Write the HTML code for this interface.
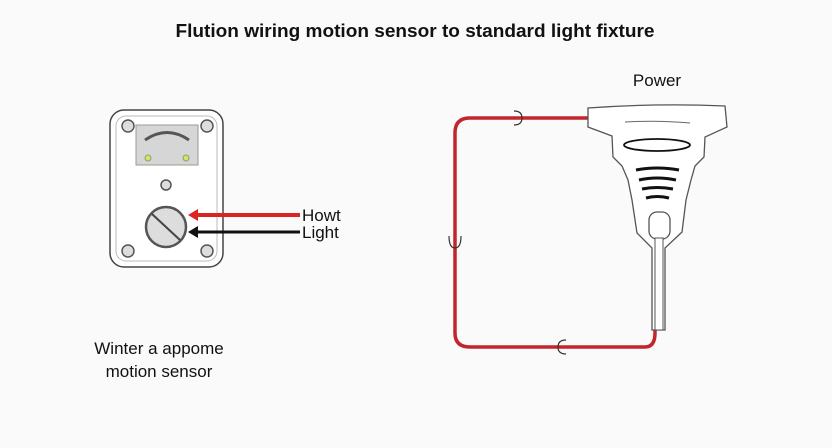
<!DOCTYPE html>
<html><head><meta charset="utf-8"><style>
html,body{margin:0;padding:0;background:#fafafa;}
svg{display:block;font-family:"Liberation Sans",sans-serif;}
</style></head><body>
<svg width="832" height="448" viewBox="0 0 832 448" xmlns="http://www.w3.org/2000/svg">
<rect width="832" height="448" fill="#fafafa"/>
<text x="415" y="37" text-anchor="middle" font-size="18" font-weight="bold" fill="#111" textLength="479" lengthAdjust="spacingAndGlyphs">Flution wiring motion sensor to standard light fixture</text>

<!-- sensor -->
<rect x="110" y="110" width="113" height="157" rx="14" fill="#fff" stroke="#444" stroke-width="1.5"/>
<rect x="116" y="116" width="101" height="145" rx="10" fill="none" stroke="#bbb" stroke-width="1"/>
<rect x="136" y="125" width="62" height="40" fill="#d6d6d6" stroke="#999"/>
<path d="M145 140 Q167 125 189 140" fill="none" stroke="#555" stroke-width="3"/>
<circle cx="148" cy="158" r="3" fill="#dde060" stroke="#7a7"/>
<circle cx="186" cy="158" r="3" fill="#dde060" stroke="#7a7"/>
<g fill="#ddd" stroke="#555" stroke-width="1.5">
<circle cx="128" cy="126" r="6"/><circle cx="207" cy="126" r="6"/>
<circle cx="128" cy="251" r="6"/><circle cx="207" cy="251" r="6"/>
<circle cx="166" cy="185" r="5"/>
<circle cx="166" cy="227" r="20" stroke-width="2.5"/>
</g>
<line x1="152" y1="214" x2="180" y2="240" stroke="#444" stroke-width="2"/>
<line x1="300" y1="215" x2="195" y2="215" stroke="#d22" stroke-width="4"/>
<polygon points="188,215 198,209 198,221" fill="#d22"/>
<line x1="300" y1="232" x2="195" y2="232" stroke="#111" stroke-width="3"/>
<polygon points="188,232 198,226 198,238" fill="#111"/>
<text x="302" y="221" font-size="17" fill="#111">Howt</text>
<text x="302" y="238" font-size="17" fill="#111">Light</text>

<text x="159" y="354" text-anchor="middle" font-size="17" fill="#111">Winter a appome</text>
<text x="159" y="377" text-anchor="middle" font-size="17" fill="#111">motion sensor</text>

<!-- red wire -->
<path d="M588 118 L470 118 Q455 118 455 133 L455 333 Q455 347 470 347 L645 347 Q655 347 655 333 L655 330" fill="none" stroke="#c2252b" stroke-width="3.5"/>
<g fill="none" stroke="#333" stroke-width="1.2">
<path d="M514 111 Q522 111 522 118 Q522 125 514 125"/>
<path d="M449 236 Q449 248 455 248 Q461 248 461 236"/>
<path d="M566 340 Q558 340 558 347 Q558 354 566 354"/>
</g>

<!-- fixture -->
<text x="657" y="86" text-anchor="middle" font-size="17" fill="#111">Power</text>
<path d="M588 108 Q657 103 725 106 L727 127 L705 137 L704 157 L695 166 L691 180 L686 200 L682 232 L665 248 L665 330 L652 330 L652 248 L637 233 L632 200 L628 180 L622 166 L613 157 L612 136 L588 127 Z" fill="#fff" stroke="#555" stroke-width="1.3"/>
<path d="M625 122 Q657 120 690 123" fill="none" stroke="#666" stroke-width="1"/>
<ellipse cx="657" cy="145" rx="33" ry="6" fill="none" stroke="#111" stroke-width="1.8"/>
<g fill="none" stroke="#111" stroke-width="3">
<path d="M636 170 Q657 166 679 170"/>
<path d="M639 180 Q657 176 676 180"/>
<path d="M642 189 Q657 186 673 189"/>
<path d="M646 198 Q657 195 669 198"/>
</g>
<rect x="649" y="212" width="21" height="27" rx="8" fill="#fff" stroke="#555" stroke-width="1.3"/>
<rect x="655" y="238" width="8" height="92" fill="#fff" stroke="#555" stroke-width="1"/>
</svg>
</body></html>
